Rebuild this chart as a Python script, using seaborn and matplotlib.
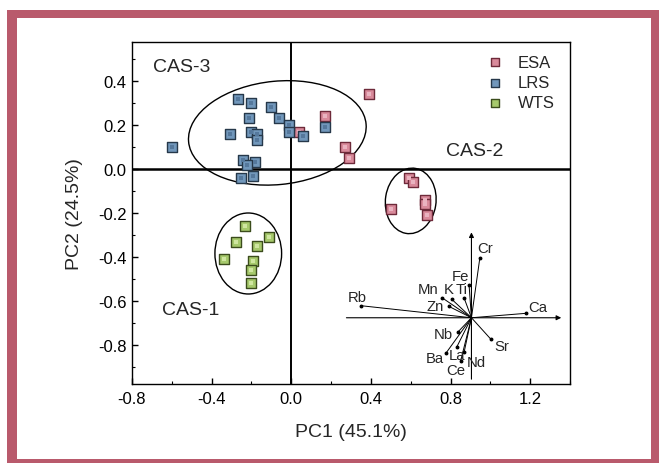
import pandas as pd
import matplotlib
matplotlib.use("Agg")
import matplotlib.pyplot as plt
from matplotlib.patches import Ellipse, Rectangle
from matplotlib.ticker import MultipleLocator, FormatStrFormatter
import seaborn as sns

# PCA scores per sample group
esa_x = [0.04, 0.17, 0.39, 0.27, 0.29, 0.59, 0.61, 0.50, 0.67, 0.67, 0.68]
esa_y = [0.17, 0.24, 0.34, 0.10, 0.05, -0.04, -0.06, -0.18, -0.14, -0.16, -0.21]

lrs_x = [-0.60, -0.27, -0.20, -0.10, -0.21, -0.06, -0.01, -0.31, -0.20, -0.17,
         -0.17, -0.01, 0.06, 0.17, -0.24, -0.18, -0.22, -0.25, -0.19]
lrs_y = [0.10, 0.32, 0.30, 0.28, 0.23, 0.23, 0.20, 0.16, 0.17, 0.16,
         0.13, 0.17, 0.15, 0.19, 0.04, 0.03, 0.02, -0.04, -0.03]

wts_x = [-0.23, -0.28, -0.11, -0.17, -0.34, -0.19, -0.20, -0.20]
wts_y = [-0.26, -0.33, -0.31, -0.35, -0.41, -0.42, -0.46, -0.52]

groups = ["ESA", "LRS", "WTS"]

# element loadings (inset biplot, in plot units from the inset origin)
elements = ["Cr", "Fe", "Ti", "K", "Mn", "Zn", "Rb", "Ca", "Sr", "Nb", "Ba", "La", "Ce", "Nd"]
load_x = [0.042, -0.012, -0.037, -0.100, -0.146, -0.114, -0.557, 0.272, 0.097,
          -0.067, -0.129, -0.075, -0.054, -0.037]
load_y = [0.271, 0.149, 0.090, 0.085, 0.090, 0.052, 0.055, 0.020, -0.097,
          -0.064, -0.162, -0.135, -0.195, -0.157]

df = pd.DataFrame({
    "PC1": esa_x + lrs_x + wts_x,
    "PC2": esa_y + lrs_y + wts_y,
    "group": ["ESA"] * len(esa_x) + ["LRS"] * len(lrs_x) + ["WTS"] * len(wts_x),
})

# styling
face = {"ESA": "#d98a9b", "LRS": "#7197bb", "WTS": "#a6c96c"}
edge = {"ESA": "#6e2a3a", "LRS": "#26384a", "WTS": "#3b4c1c"}
core = {"ESA": "#eab3c0", "LRS": "#55789c", "WTS": "#cfe6a0"}

# label offsets (points) for the loading names
lab_off = {"Cr": (3.5, 7), "Fe": (-6.5, 6.5), "Ti": (-1.5, 6.5), "K": (-2, 7),
           "Mn": (-10, 6.5), "Zn": (-10, 0), "Rb": (-2.5, 6.5), "Ca": (8.5, 4.5),
           "Sr": (8, -5.2), "Nb": (-10.5, -1.7), "Ba": (-8, -3.2), "La": (0.5, -5.2),
           "Ce": (-3.6, -6.5), "Nd": (9, -7.2)}

sns.set_theme(style="ticks")
plt.rcParams["font.family"] = ["Liberation Sans", "DejaVu Sans"]

fig = plt.figure(figsize=(6.59, 4.64), dpi=100)
W, H = 659, 464
fig.patches.append(Rectangle((7 / W, 0), 1, 1 - 11 / H, transform=fig.transFigure,
                             facecolor="#b95a6c", edgecolor="none", zorder=-10))
fig.patches.append(Rectangle((17 / W, 4 / H), (651 - 17) / W, (460 - 19) / H,
                             transform=fig.transFigure, facecolor="white",
                             edgecolor="none", zorder=-9))

ax = fig.add_axes([132 / W, 1 - 385 / H, (570 - 132) / W, (385 - 43) / H])
ax.patch.set_alpha(0)

for g in groups:
    sub = df[df["group"] == g]
    sns.scatterplot(data=sub, x="PC1", y="PC2", marker="s", s=58, color=face[g],
                    edgecolor=edge[g], linewidth=1.0, label=g, ax=ax, zorder=3)
    ax.scatter(sub["PC1"], sub["PC2"], marker="s", s=10, color=core[g],
               linewidths=0, zorder=3)

# group ellipses
for (cx, cy, w, h, a) in [(-0.07, 0.164, 0.895, 0.47, 5),
                          (0.60, -0.145, 0.254, 0.299, -10),
                          (-0.216, -0.384, 0.335, 0.368, 0)]:
    ax.add_patch(Ellipse((cx, cy), w, h, angle=a, fill=False, ec="black", lw=1.0, zorder=2))

ax.axhline(0, color="black", lw=1.8, zorder=1)
ax.axvline(0, color="black", lw=1.4, zorder=1)

ax.text(-0.695, 0.465, "CAS-3", fontsize=14, va="center")
ax.text(0.776, 0.083, "CAS-2", fontsize=14, va="center")
ax.text(-0.65, -0.64, "CAS-1", fontsize=14, va="center")

# inset biplot of loadings
ox, oy = 0.905, -0.676
ax.annotate("", xy=(1.356, oy), xytext=(0.277, oy),
            arrowprops=dict(arrowstyle="-|>", color="black", lw=0.8,
                            mutation_scale=7, shrinkA=0, shrinkB=0))
ax.annotate("", xy=(ox, -0.288), xytext=(ox, -0.955),
            arrowprops=dict(arrowstyle="-|>", color="black", lw=0.8,
                            mutation_scale=7, shrinkA=0, shrinkB=0))
for name, lx, ly in zip(elements, load_x, load_y):
    ex, ey = ox + lx, oy + ly
    ax.plot([ox, ex], [oy, ey], color="black", lw=0.7, zorder=2)
    ax.plot(ex, ey, "o", color="black", ms=1.8, zorder=2)
    ax.annotate(name, (ex, ey), xytext=lab_off[name], textcoords="offset points",
                ha="center", va="center", fontsize=10.7)

ax.set_xlim(-0.8, 1.4)
ax.set_ylim(-0.977, 0.577)
ax.xaxis.set_major_locator(MultipleLocator(0.4))
ax.xaxis.set_minor_locator(MultipleLocator(0.2))
ax.yaxis.set_major_locator(MultipleLocator(0.2))
ax.yaxis.set_minor_locator(MultipleLocator(0.1))
ax.xaxis.set_major_formatter(FormatStrFormatter("%.1f"))
ax.yaxis.set_major_formatter(FormatStrFormatter("%.1f"))
ax.tick_params(which="major", direction="in", length=4, width=1, labelsize=12,
               colors="black", pad=4)
ax.tick_params(which="minor", direction="in", length=2.5, width=0.8, colors="black")
ax.tick_params(axis="x", pad=5)
for sp in ax.spines.values():
    sp.set_color("black")
    sp.set_linewidth(1.0)
    sp.set_visible(True)

ax.set_xlabel("PC1 (45.1%)", fontsize=14)
ax.set_ylabel("PC2 (24.5%)", fontsize=14)
ax.xaxis.set_label_coords(0.5, -0.115)
ax.yaxis.set_label_coords(-0.112, 0.5)

ax.legend(loc="upper left", bbox_to_anchor=(0.81, 0.963), frameon=False,
          fontsize=12, handlelength=1, handletextpad=0.88, labelspacing=0.32,
          borderpad=0, borderaxespad=0, markerscale=0.85)

fig.savefig("out.png", dpi=100)
